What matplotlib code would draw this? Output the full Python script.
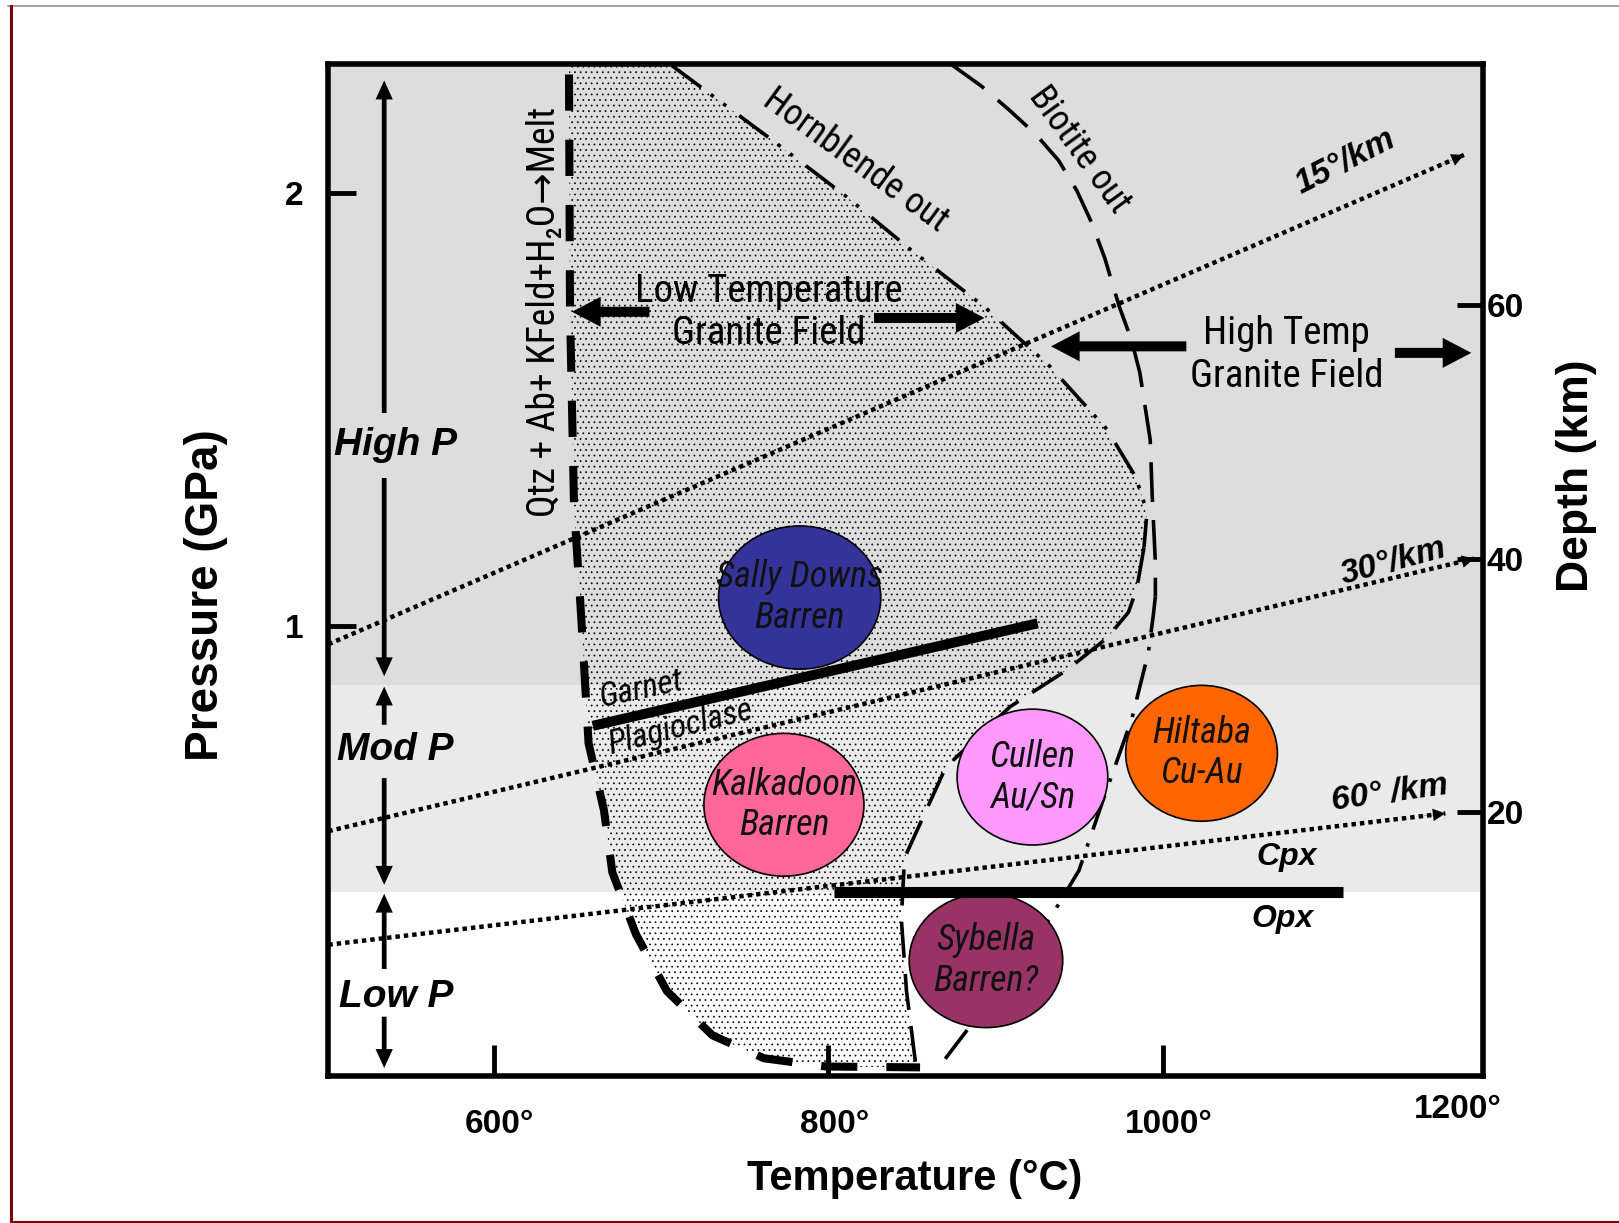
import numpy as np
import matplotlib.pyplot as plt
from matplotlib.patches import Ellipse, Polygon, FancyArrowPatch
from matplotlib.lines import Line2D
from matplotlib.transforms import ScaledTranslation

NARROW = ['Roboto Condensed', 'DejaVu Sans']
plt.rcParams['font.family'] = ['Liberation Sans', 'DejaVu Sans']
plt.rcParams['hatch.linewidth'] = 0.5

# pressure bands (GPa): low / moderate / high
band_lo, band_hi = 0.385, 0.864

# Qtz + Ab + KFeld + H2O -> melt (wet granite solidus)
solidus_T = [645.1, 645.7, 648.1, 652.5, 656.8, 666.0, 671.0, 685.2, 703.7, 730.9, 761.7, 798.8, 855.0]
solidus_P = [2.274, 1.730, 1.277, 1.014, 0.728, 0.573, 0.430, 0.286, 0.155, 0.053, 0.000, -0.019, -0.021]

# hornblende-out, upper (dash-dot) and lower (dashed) branches
hbl_T = [706.8, 766.7, 810.5, 849.4, 893.2, 932.7, 966.7, 983.9, 990.7, 988.9]
hbl_P = [2.294, 2.122, 1.993, 1.869, 1.738, 1.599, 1.454, 1.344, 1.263, 1.181]
hbl_low_T = [988.9, 984.6, 979.6, 966.7, 942.6, 908.6, 870.4, 845.7, 843.8, 846.9, 852.5]
hbl_low_P = [1.181, 1.086, 1.031, 0.971, 0.897, 0.812, 0.673, 0.463, 0.322, 0.155, -0.017]

# biotite-out, upper (dashed) and lower (dash-dot) branches
bt_T = [874.1, 891.4, 908.0, 924.1, 937.7, 948.8, 957.4, 965.4, 974.1, 981.5, 986.4, 992.6,
        993.8, 995.7, 995.7]
bt_P = [2.296, 2.248, 2.193, 2.136, 2.076, 2.005, 1.933, 1.850, 1.738, 1.659, 1.585, 1.430,
        1.301, 1.146, 1.067]
bt_low_T = [995.7, 994.4, 991.4, 986.4, 981.5, 964.8, 950.0, 933.3, 883.9, 867.9]
bt_low_P = [1.067, 1.022, 0.936, 0.859, 0.783, 0.601, 0.434, 0.327, 0.069, -0.012]

# geotherms
geo_labels = ['15°/km', '30°/km', '60° /km']
geo_T0 = [501.2, 501.2, 501.2]
geo_P0 = [0.957, 0.525, 0.2625]
geo_T1 = [1180.2, 1186.4, 1169.1]
geo_P1 = [2.088, 1.155, 0.566]

# garnet/plagioclase and cpx/opx reactions
gt_T = [659.3, 925.3]
gt_P = [0.7685, 1.0055]
px_T = [803.3, 1107.7]
px_P = [0.384, 0.384]

# granite suites
suite_names = ['Sally Downs\nBarren', 'Kalkadoon\nBarren', 'Cullen\nAu/Sn', 'Hiltaba\nCu-Au', 'Sybella\nBarren?']
suite_T = [783.0, 773.6, 922.2, 1023.3, 894.4]
suite_P = [1.065, 0.586, 0.650, 0.705, 0.226]
suite_dT = [97.0, 95.7, 90.1, 90.7, 91.8]
suite_dP = [0.331, 0.330, 0.314, 0.314, 0.310]
suite_colors = ['#333399', '#FF6699', '#FF99FF', '#FF6600', '#993366']

# depth scale
depth_ticks = [20, 40, 60]
km_per_GPa = 34.13
P_surface = -0.0169

xlo, xhi = 501.2, 1191.4
ylo, yhi = -0.0406, 2.2983

fig = plt.figure(figsize=(16.19, 12.23), dpi=100)
ax = fig.add_axes([0.2028, 0.1203, 0.7130, 0.8274])
ax.set_xlim(xlo, xhi)
ax.set_ylim(ylo, yhi)

ax.axhspan(band_hi, yhi, color='#DDDDDD', lw=0, zorder=0)
ax.axhspan(band_lo, band_hi, color='#EAEAEA', lw=0, zorder=0)

# stippled low-temperature granite field
verts = (list(zip(solidus_T, solidus_P)) + list(zip(hbl_low_T[::-1], hbl_low_P[::-1]))
         + list(zip(hbl_T[::-1], hbl_P[::-1])) + [(hbl_T[0], yhi), (solidus_T[0], yhi)])
ax.add_patch(Polygon(verts, closed=True, facecolor='none', edgecolor='black', lw=0,
                     hatch='...', zorder=1))

ax.plot(solidus_T, solidus_P, color='black', lw=5.8, ls=(0, (4.5, 3.6)), zorder=3)
ax.plot(hbl_T, hbl_P, color='black', lw=2.6, ls=(0, (10, 3.3, 1, 3.3, 1, 4.5)), zorder=3)
ax.plot(hbl_low_T, hbl_low_P, color='black', lw=2.6, ls=(0, (10, 4.5)), zorder=3)
ax.plot(bt_T, bt_P, color='black', lw=2.6, ls=(0, (11, 5)), zorder=3)
ax.plot(bt_low_T, bt_low_P, color='black', lw=2.6, ls=(0, (10, 4, 1, 4)), zorder=3)

for t0, p0, t1, p1 in zip(geo_T0, geo_P0, geo_T1, geo_P1):
    ax.plot([t0, t1], [p0, p1], color='black', lw=3.2, ls=(0, (1, 0.9)),
            dash_capstyle='butt', zorder=3)
    tb, pb = t1 - 0.02 * (t1 - t0), p1 - 0.02 * (p1 - p0)
    ax.add_patch(FancyArrowPatch((tb, pb), (t1, p1), color='black', lw=0,
                 arrowstyle='simple,head_length=0.45,head_width=0.45,tail_width=0.01',
                 mutation_scale=20, shrinkA=0, shrinkB=0, zorder=3))

for t, p, w, h, c, name in zip(suite_T, suite_P, suite_dT, suite_dP, suite_colors, suite_names):
    ax.add_patch(Ellipse((t, p), w, h, facecolor=c, edgecolor='black', lw=1.2, zorder=5))
    ax.text(t, p, name, ha='center', va='center', fontsize=26, style='italic',
            family=NARROW, color='#111111', linespacing=1.15, zorder=7)

ax.plot(gt_T, gt_P, color='black', lw=7.2, solid_capstyle='butt', zorder=6)
ax.plot(px_T, px_P, color='black', lw=8, solid_capstyle='butt', zorder=6)


def block_arrow(tail, head, scale=20, tw=0.36, hw=1.08, hl=1.03):
    ax.add_patch(FancyArrowPatch(tail, head, color='black', lw=0, mutation_scale=scale,
                 arrowstyle=f'simple,head_length={hl},head_width={hw},tail_width={tw}',
                 shrinkA=0, shrinkB=0, zorder=6))


# field arrows
block_arrow((693.2, 1.7255), (646.9, 1.7255))
block_arrow((827.5, 1.7112), (893.5, 1.7112))
block_arrow((1014.2, 1.6456), (933.3, 1.6456))
block_arrow((1138.9, 1.6305), (1184.6, 1.6305))

# pressure range arrows
Tp = 534.6
for tail, head in [(1.4916, 2.260), (1.3413, 0.8831), (0.7709, 0.8592), (0.6477, 0.4010),
                   (0.2064, 0.3804), (0.0962, -0.0224)]:
    block_arrow((Tp, tail), (Tp, head), tw=0.17, hw=0.62, hl=0.68)
for label, p in [('High P', 1.4177), ('Mod P', 0.7124), ('Low P', 0.1422)]:
    ax.text(541.5, p, label, ha='center', va='center', fontsize=28, weight='bold',
            style='italic', zorder=7)

ax.text(764.8, 1.724, 'Low Temperature\nGranite Field', ha='center', va='center',
        fontsize=28, family=NARROW, linespacing=1.2, zorder=7)
ax.text(1074.1, 1.6253, 'High Temp\nGranite Field', ha='center', va='center',
        fontsize=28, family=NARROW, linespacing=1.2, zorder=7)
ax.text(816.1, 2.0764, 'Hornblende out', ha='center', va='center', rotation=-36,
        rotation_mode='anchor', fontsize=26, family=NARROW, zorder=7)
ax.text(950.0, 2.1002, 'Biotite out', ha='center', va='center', rotation=-54,
        rotation_mode='anchor', fontsize=26, family=NARROW, zorder=7)
ax.text(630.2, 1.7255, 'Qtz + Ab+ KFeld+H\u2082O\u2192Melt', ha='center', va='center',
        rotation=90, fontsize=27, family=NARROW, zorder=7)
ax.text(688.3, 0.8532, 'Garnet', ha='center', va='center', rotation=12,
        rotation_mode='anchor', fontsize=24, style='italic', family=NARROW, zorder=7)
ax.text(711.7, 0.7637, 'Plagioclase', ha='center', va='center', rotation=14,
        rotation_mode='anchor', fontsize=24, style='italic', family=NARROW, zorder=7)
ax.text(1074.1, 0.4654, 'Cpx', ha='center', va='center', fontsize=23, weight='bold',
        style='italic', zorder=7)
ax.text(1071.6, 0.3222, 'Opx', ha='center', va='center', fontsize=23, weight='bold',
        style='italic', zorder=7)

for label, t, p, rot in zip(geo_labels, [1109.0, 1138.3, 1135.8], [2.0716, 1.148, 0.6119],
                            [27, 15, 8]):
    ax.text(t, p, label, ha='center', va='center', rotation=rot, rotation_mode='anchor',
            fontsize=24, weight='bold', style='italic', zorder=7)

# axes frame and ticks
for s in ax.spines.values():
    s.set_linewidth(4)
    s.set_zorder(8)
ax.set_xticks([600, 800, 1000])
ax.set_xticklabels(['600°', '800°', '1000°'], fontsize=24, weight='bold')
ax.set_yticks([1, 2])
ax.set_yticklabels(['1', '2'], fontsize=24, weight='bold')
ax.tick_params(axis='x', direction='in', length=22, width=3.5, pad=24)
ax.tick_params(axis='y', direction='in', length=20, width=3.5, pad=18)
for lbl in ax.get_xticklabels():
    lbl.set_transform(lbl.get_transform() + ScaledTranslation(0.06, 0, fig.dpi_scale_trans))
ax.text(0.9785, -0.0336, '1200°', transform=ax.transAxes, ha='center', va='center',
        fontsize=24, weight='bold')

ax2 = ax.twinx()
ax2.set_ylim((ylo - P_surface) * km_per_GPa, (yhi - P_surface) * km_per_GPa)
ax2.set_yticks(depth_ticks)
ax2.set_yticklabels([str(d) for d in depth_ticks], fontsize=24, weight='bold')
ax2.tick_params(axis='y', direction='in', length=19, width=3.5, pad=3)
for s in ax2.spines.values():
    s.set_visible(False)

ax.text(-0.1064, 0.4753, 'Pressure (GPa)', transform=ax.transAxes, rotation=90,
        ha='center', va='center', fontsize=33, weight='bold')
ax.text(1.0813, 0.5929, 'Depth (km)', transform=ax.transAxes, rotation=90,
        ha='center', va='center', fontsize=32, weight='bold')
ax.text(0.508, -0.1018, 'Temperature (°C)', transform=ax.transAxes,
        ha='center', va='center', fontsize=30, weight='bold')

# slide frame
fig.add_artist(Line2D([0.005, 1], [0.9951, 0.9951], color='#888888', lw=1.1))
fig.add_artist(Line2D([0.0068, 0.0068], [0.0012, 0.9951], color='#7F0000', lw=2.2))
fig.add_artist(Line2D([0.0068, 1], [0.0012, 0.0012], color='#7F0000', lw=2.2))

fig.savefig('out.png', dpi=100)
